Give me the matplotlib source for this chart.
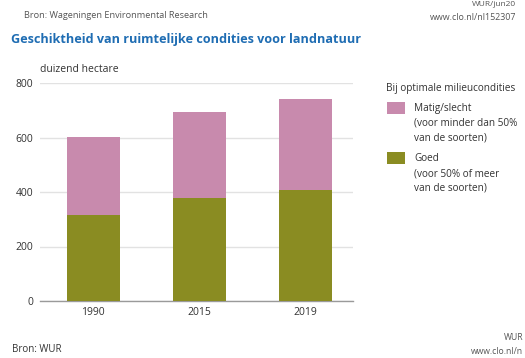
import matplotlib
matplotlib.use("Agg")
import matplotlib.pyplot as plt
from matplotlib.patches import Rectangle

# waarden in duizend hectare
jaren = ["1990", "2015", "2019"]
goed = [314, 379, 407]
matig_slecht = [287, 316, 336]
y_ticks = [0, 200, 400, 600, 800]

kleur_goed = "#8a8c22"
kleur_matig = "#c88aad"
blauw = "#1f6db3"
grijs = "#555555"

plt.rcParams["font.family"] = ["Open Sans", "DejaVu Sans"]

fig = plt.figure(figsize=(5.25, 3.58), dpi=100)
W, H = 525, 358

# assen in pixelcoordinaten
x0, x1 = 40, 353
y0, y1 = 301, 83
ax = fig.add_axes([x0 / W, 1 - y0 / H, (x1 - x0) / W, (y0 - y1) / H])

pos = range(len(jaren))
ax.bar(pos, goed, width=0.5, color=kleur_goed, zorder=3)
ax.bar(pos, matig_slecht, width=0.5, bottom=goed, color=kleur_matig, zorder=3)

ax.set_xlim(-0.5, 2.45)
ax.set_ylim(0, 800)
ax.set_yticks(y_ticks)
ax.set_xticks(list(pos))
ax.set_xticklabels(jaren)
ax.grid(axis="y", color="#e2e2e2", linewidth=1, zorder=0)
for s in ["top", "right", "left"]:
    ax.spines[s].set_visible(False)
ax.spines["bottom"].set_color("#9a9a9a")
ax.spines["bottom"].set_linewidth(1)
ax.tick_params(axis="both", length=0, labelsize=7.5, colors="#333333")
ax.tick_params(axis="y", pad=5)
ax.tick_params(axis="x", pad=4)

def px(x, y):
    return x / W, 1 - y / H

fig.text(*px(40, 69), "duizend hectare", fontsize=7.5, color="#333333", va="center")

# kop- en voetteksten
fig.text(*px(24, 15), "Bron: Wageningen Environmental Research", fontsize=6.6, color=grijs, va="center")
fig.text(*px(516, 5), "WUR/jun20", fontsize=6, color=grijs, ha="right", va="center")
fig.text(*px(516, 18), "www.clo.nl/nl152307", fontsize=6.4, color=grijs, ha="right", va="center")
fig.text(*px(11, 40), "Geschiktheid van ruimtelijke condities voor landnatuur",
         fontsize=9.1, color=blauw, fontweight="bold", va="center")
fig.text(*px(12, 349), "Bron: WUR", fontsize=7, color="#333333", va="center")
fig.text(*px(523, 338), "WUR", fontsize=6.2, color=grijs, ha="right", va="center")
fig.text(*px(523, 351), "www.clo.nl/n", fontsize=6.2, color=grijs, ha="right", va="center")

# legenda
fig.text(*px(386, 88), "Bij optimale milieucondities", fontsize=7.2, color="#333333", va="center")
legenda = [
    (kleur_matig, 102, ["Matig/slecht", "(voor minder dan 50%", "van de soorten)"]),
    (kleur_goed, 152, ["Goed", "(voor 50% of meer", "van de soorten)"]),
]
for kleur, top, regels in legenda:
    bx, by = px(387, top + 12)
    fig.patches.append(Rectangle((bx, by), 18 / W, 12 / H, transform=fig.transFigure,
                                 facecolor=kleur, edgecolor="none"))
    for i, regel in enumerate(regels):
        fig.text(*px(414, top + 7 + i * 14.5), regel, fontsize=7.2, color="#333333", va="center")

fig.savefig("out.png", dpi=100)
